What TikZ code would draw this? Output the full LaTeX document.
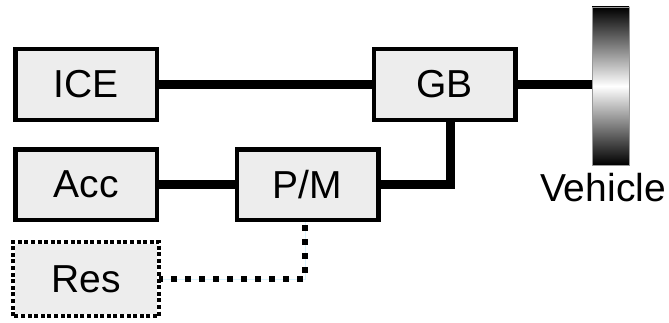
\documentclass[tikz,border=0pt]{standalone}
\usepackage{fontspec}
\setmainfont{Liberation Sans}
\usetikzlibrary{positioning}

\begin{document}
\begin{tikzpicture}[x=1pt,y=1pt,
		part/.style={draw,fill=black!7,line width=4.5pt,minimum width=141.5pt,minimum height=70.5pt,inner sep=0pt,font=\fontsize{39pt}{46pt}\selectfont},
		shaft/.style={line width=9pt},
		spare/.style={line width=6pt,dash pattern=on 6pt off 8pt}]
			\useasboundingbox (0,0) rectangle (669,322);

			\node (ice) at (86,237.5) [part] {ICE};
			\node (gb) at (444.5,237.5) [part] {GB};
			\node (acc) at (86,137.5) [part] {Acc};
			\node (pm) at (307.5,137.5) [part] {P/M};
			\node (res) at (86,43) [part,draw=none,minimum height=70pt] {Res};
			\draw[line width=4pt,dash pattern=on 4pt off 2.6pt] (res.south west) rectangle (res.north east);

			% wheel
			\node (wheel) at (610.5,236) [draw=black!40,line width=0.6pt,minimum width=37pt,minimum height=158pt,inner sep=0pt,
				top color=black,bottom color=black,middle color=white] {};
			\node (veh) [below=8pt of wheel,xshift=-7.5pt,inner sep=0pt,font=\fontsize{39pt}{46pt}\selectfont] {Vehicle};

			\draw[shaft] (ice) -- (gb);
			\draw[shaft] (gb.east) -- (wheel.west |- gb.east);
			\draw[shaft] (acc) -- (pm);
			\draw[shaft] (pm.east) -| ([xshift=5.5pt]gb.south);
			\draw[cyan!15,line width=0.7pt] ([xshift=-2.5pt]pm.south) |- (res.east);
			\draw[spare] ([xshift=-2.5pt,yshift=-3pt]pm.south) |- (res.east);
		\end{tikzpicture}
\end{document}
